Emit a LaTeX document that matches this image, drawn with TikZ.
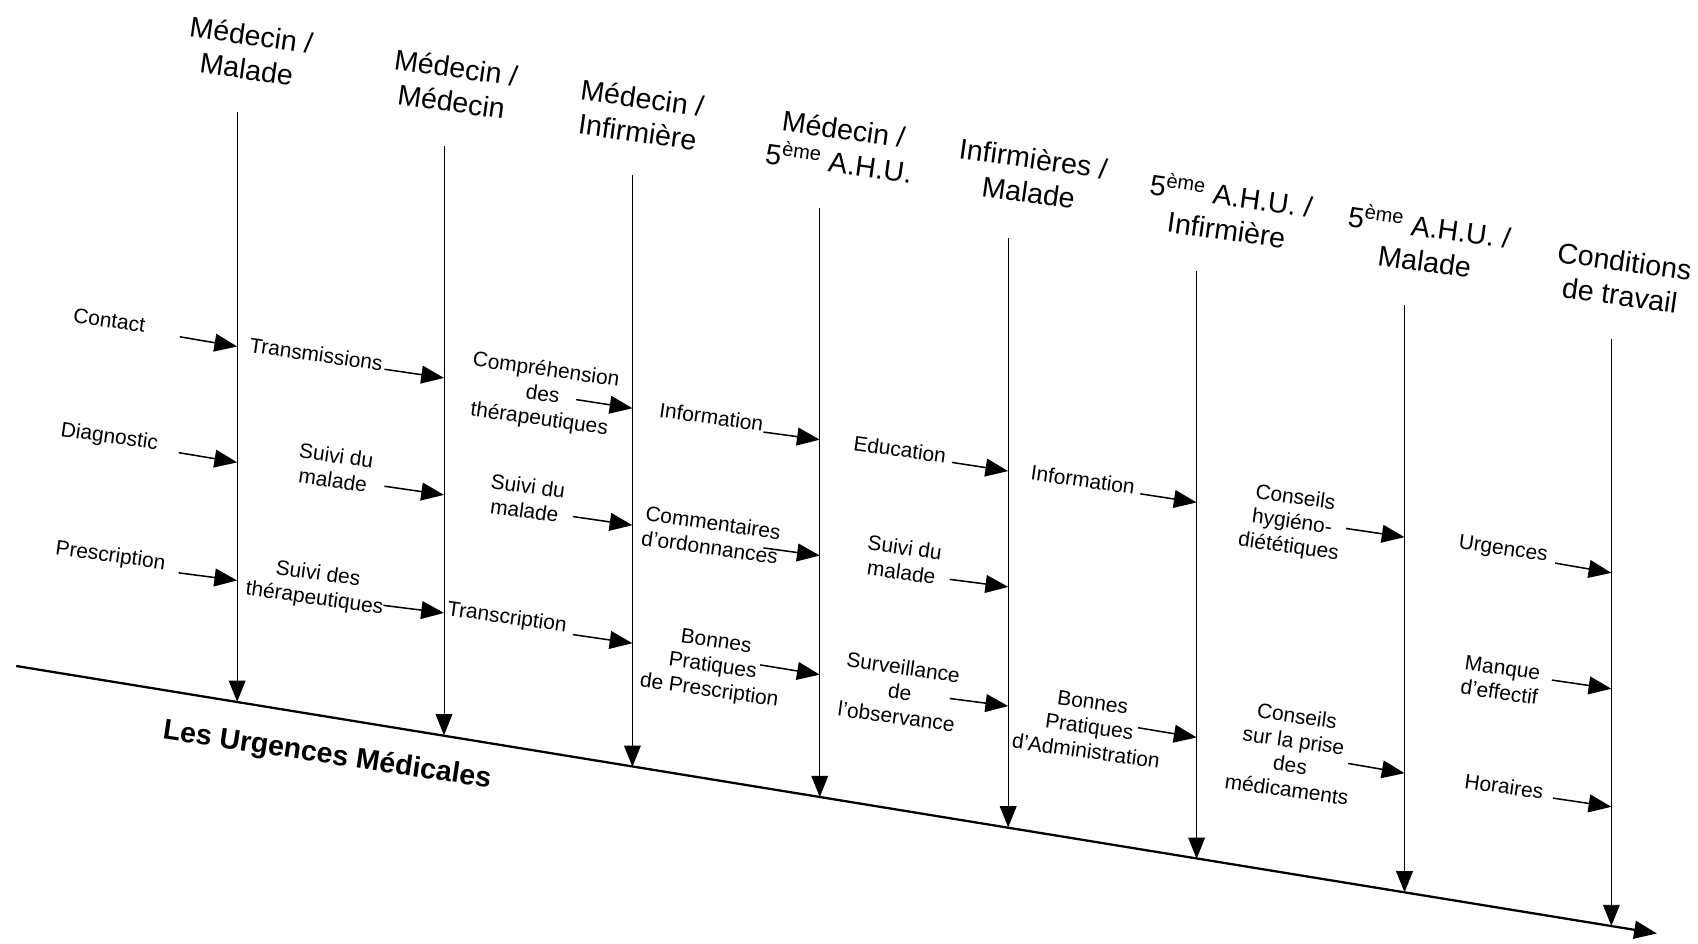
\documentclass[tikz,border=0pt]{standalone}
\usepackage{fontspec}
\setmainfont{Liberation Sans}
\usetikzlibrary{arrows.meta}

\begin{document}
\begin{tikzpicture}[x=0.02cm, y=-0.02cm,
        titre/.style={align=center,rotate=-8,inner sep=1pt,font=\fontsize{15}{18}\selectfont},
        cause/.style={align=center,rotate=-8,inner sep=1pt,font=\fontsize{11}{13}\selectfont},
        fleche/.style={-{Triangle[length=4.2mm,width=3.3mm]},line width=0.8pt},
        ligne/.style={-{Triangle[length=3.9mm,width=3.1mm]},line width=0.5pt},
        axe/.style={-{Triangle[length=4.2mm,width=3.3mm]},line width=1.2pt}]
    \useasboundingbox (0,0) rectangle (1568,871);

    \node[titre] (h1) at (230,48) {Médecin /\\Malade};
    \node[titre] (h2) at (419,78) {Médecin /\\Médecin};
    \node[titre] (h3) at (591,106) {Médecin /\\Infirmière};
    \node[titre] (h4) at (777,135) {Médecin /\\5\textsuperscript{ème} A.H.U.};
    \node[titre] (h5) at (952,162) {Infirmières /\\Malade};
    \node[titre] (h6) at (1135,195) {5\textsuperscript{ème} A.H.U. /\\Infirmière};
    \node[titre] (h7) at (1318,224) {5\textsuperscript{ème} A.H.U. /\\Malade};
    \node[titre] (h8) at (1498,257) {Conditions\\de travail};

    \coordinate (a0) at (15,615);
    \coordinate (a1) at (1530,862);
    \coordinate (t1) at (219,103);  \coordinate (b1) at (219,648);
    \coordinate (t2) at (410,135);  \coordinate (b2) at (410,679);
    \coordinate (t3) at (584,162);  \coordinate (b3) at (584,708);
    \coordinate (t4) at (757,192);  \coordinate (b4) at (757,736);
    \coordinate (t5) at (931,220);  \coordinate (b5) at (931,764);
    \coordinate (t6) at (1105,250); \coordinate (b6) at (1105,793);
    \coordinate (t7) at (1297,282); \coordinate (b7) at (1297,824);
    \coordinate (t8) at (1488,313); \coordinate (b8) at (1488,855);

    \draw[axe] (a0) -- (a1);
    \draw (t1) edge[ligne] (b1) (t2) edge[ligne] (b2) (t3) edge[ligne] (b3) (t4) edge[ligne] (b4)
          (t5) edge[ligne] (b5) (t6) edge[ligne] (b6) (t7) edge[ligne] (b7) (t8) edge[ligne] (b8);

    \node[font=\bfseries\fontsize{15}{18}\selectfont,rotate=-8.5] (urg) at (302,698) {Les Urgences Médicales};

    \node[cause] (c1) at (101,296) {Contact};
    \coordinate (c1s) at (166,311); \coordinate (c1e) at (219,320);
    \node[cause] (c2) at (101,404) {Diagnostic};
    \coordinate (c2s) at (165,418); \coordinate (c2e) at (219,427);
    \node[cause] (c3) at (102,514) {Prescription};
    \coordinate (c3s) at (165,529); \coordinate (c3e) at (219,536);

    \node[cause] (c4) at (292,327) {Transmissions};
    \coordinate (c4s) at (355,341); \coordinate (c4e) at (410,349);
    \node[cause] (c5) at (309,432) {Suivi du\\malade};
    \coordinate (c5s) at (355,449); \coordinate (c5e) at (410,457);
    \node[cause] (c6) at (292,542) {Suivi des\\thérapeutiques};
    \coordinate (c6s) at (354,559); \coordinate (c6e) at (410,566);

    \node[cause] (c7) at (501,365) {Compréhension\\des\\thérapeutiques};
    \coordinate (c7s) at (532,369); \coordinate (c7e) at (584,377);
    \node[cause] (c8) at (486,460) {Suivi du\\malade};
    \coordinate (c8s) at (529,477); \coordinate (c8e) at (584,485);
    \node[cause] (c9) at (468,571) {Transcription};
    \coordinate (c9s) at (529,586); \coordinate (c9e) at (584,594);

    \node[cause] (c10) at (657,385) {Information};
    \coordinate (c10s) at (705,399); \coordinate (c10e) at (757,406);
    \node[cause] (c11) at (657,494) {Commentaires\\d'ordonnances};
    \coordinate (c11s) at (705,506); \coordinate (c11e) at (757,513);
    \node[cause] (c12) at (658,616) {Bonnes\\Pratiques\\de Prescription};
    \coordinate (c12s) at (702,614); \coordinate (c12e) at (757,623);

    \node[cause] (c13) at (831,415) {Education};
    \coordinate (c13s) at (879,427); \coordinate (c13e) at (931,435);
    \node[cause] (c14) at (834,517) {Suivi du\\malade};
    \coordinate (c14s) at (877,535); \coordinate (c14e) at (931,542);
    \node[cause] (c15) at (831,639) {Surveillance\\de\\l'observance};
    \coordinate (c15s) at (877,645); \coordinate (c15e) at (931,652);

    \node[cause] (c16) at (1000,443) {Information};
    \coordinate (c16s) at (1053,456); \coordinate (c16e) at (1105,464);
    \node[cause] (c17) at (1006,671) {Bonnes\\Pratiques\\d'Administration};
    \coordinate (c17s) at (1051,672); \coordinate (c17e) at (1105,681);

    \node[cause] (c18) at (1193,483) {Conseils\\hygiéno-\\diététiques};
    \coordinate (c18s) at (1243,488); \coordinate (c18e) at (1297,496);
    \node[cause] (c19) at (1193,695) {Conseils\\sur la prise\\des\\médicaments};
    \coordinate (c19s) at (1245,705); \coordinate (c19e) at (1297,714);

    \node[cause] (c20) at (1388,508) {Urgences};
    \coordinate (c20s) at (1436,520); \coordinate (c20e) at (1488,529);
    \node[cause] (c21) at (1386,628) {Manque\\d'effectif};
    \coordinate (c21s) at (1433,628); \coordinate (c21e) at (1488,636);
    \node[cause] (c22) at (1389,726) {Horaires};
    \coordinate (c22s) at (1434,737); \coordinate (c22e) at (1488,745);

    \draw (c1s) edge[fleche] (c1e) (c2s) edge[fleche] (c2e) (c3s) edge[fleche] (c3e)
          (c4s) edge[fleche] (c4e) (c5s) edge[fleche] (c5e) (c6s) edge[fleche] (c6e)
          (c7s) edge[fleche] (c7e) (c8s) edge[fleche] (c8e) (c9s) edge[fleche] (c9e)
          (c10s) edge[fleche] (c10e) (c11s) edge[fleche] (c11e) (c12s) edge[fleche] (c12e)
          (c13s) edge[fleche] (c13e) (c14s) edge[fleche] (c14e) (c15s) edge[fleche] (c15e)
          (c16s) edge[fleche] (c16e) (c17s) edge[fleche] (c17e)
          (c18s) edge[fleche] (c18e) (c19s) edge[fleche] (c19e)
          (c20s) edge[fleche] (c20e) (c21s) edge[fleche] (c21e) (c22s) edge[fleche] (c22e);
\end{tikzpicture}
\end{document}
